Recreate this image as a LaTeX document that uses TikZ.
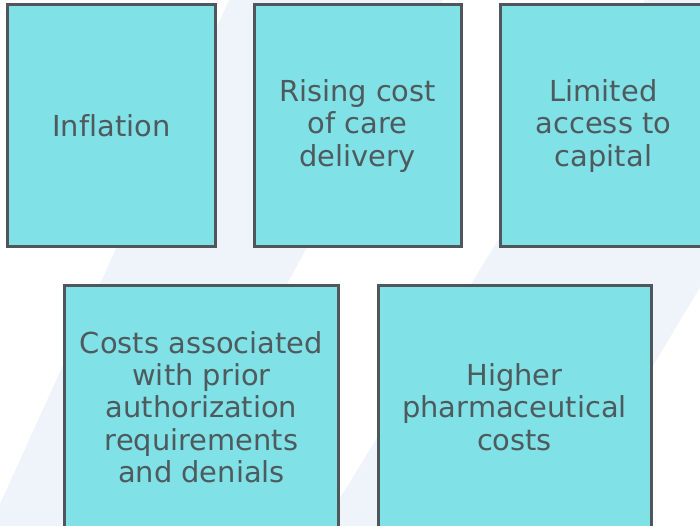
\documentclass[tikz,border=0pt]{standalone}
\usepackage{fontspec}
\setmainfont{DejaVu Sans}[Ligatures=NoCommon]
\definecolor{boxfill}{HTML}{80E1E6}
\definecolor{boxline}{HTML}{50575A}
\definecolor{txt}{HTML}{4E5A5D}
\definecolor{stripe}{HTML}{EEF4FA}
\begin{document}
\begin{tikzpicture}[x=1bp,y=1bp,
  card/.style={rectangle, draw=boxline, line width=3bp, fill=boxfill,
    text=txt, align=center, inner sep=0pt,
    font=\fontsize{29}{32.5}\selectfont}]
\useasboundingbox (0,0) rectangle (700,526);
\fill[white] (0,0) rectangle (700,526);
% faint diagonal background stripes (y' = 526 - y)
\fill[stripe] (229,526) -- (443,526) -- (154,0) -- (-10,0) -- cycle;
\fill[stripe] (645,526) -- (872,526) -- (557,0) -- (323,0) -- cycle;
% boxes
\node[card, minimum width=207bp, minimum height=242bp] (infl) at (111.5,400) {Inflation};
\node[card, minimum width=207bp, minimum height=242bp] (rise) at (357.5,400) {Rising cost\\of care\\delivery};
\node[card, minimum width=207bp, minimum height=242bp] (cap) at (603.5,400) {Limited\\access to\\capital};
\node[card, minimum width=273bp, minimum height=242bp] (prior) at (201.5,119) {Costs associated\\with prior\\authorization\\requirements\\and denials};
\node[card, minimum width=273bp, minimum height=242bp] (pharm) at (514.5,119) {Higher\\pharmaceutical\\costs};
\end{tikzpicture}
\end{document}
